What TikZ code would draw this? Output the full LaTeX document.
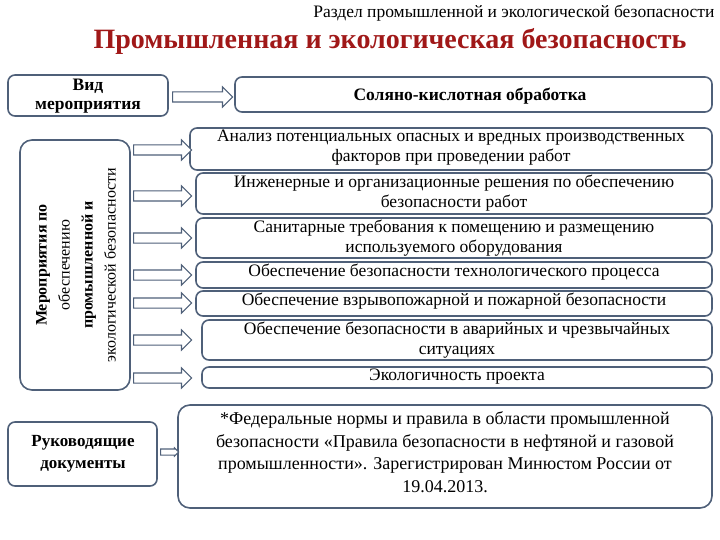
\documentclass[tikz,border=0pt]{standalone}
\usepackage{fontspec}
\setmainfont{Liberation Serif}
\usetikzlibrary{shapes.arrows}
\definecolor{edgeblue}{HTML}{4F6079}
\definecolor{titlered}{HTML}{A01818}
\tikzset{
  infobox/.style={draw=edgeblue,line width=1.6pt,rounded corners=7pt},
  blockarrow/.style={single arrow,draw=edgeblue,fill=white,line width=1.1pt,
    single arrow head extend=5pt,inner sep=4.5pt,minimum height=#1,anchor=west},
}
\begin{document}
\begin{tikzpicture}[x=1pt,y=-1pt,font=\fontsize{17.5}{19.5}\selectfont]
		% Page frame
		\useasboundingbox (0,0) rectangle (720,540);
		% Headings
		\node[anchor=east,font=\fontsize{17.5}{19}\selectfont] (section) at (718,13) {Раздел промышленной и экологической безопасности};
		\node[font=\fontsize{28}{30}\bfseries,text=titlered] (title) at (390,41) {Промышленная и экологическая безопасность};

		% Top row
		\draw[infobox] (8,75) rectangle (168,116);
		\node[align=center,font=\fontsize{17.5}{19}\bfseries] (kind) at (88,96) {Вид\\мероприятия};
		\draw[infobox] (235,77) rectangle (712,112);
		\node[font=\fontsize{17.5}{19}\bfseries] (treat) at (470,96) {Соляно-кислотная обработка};
		\node[blockarrow=60pt] (a0) at (172,97) {};

		% Left tall box with rotated text
		\draw[infobox,rounded corners=12pt] (20,140) rectangle (130,390);
		\node[rotate=90,align=center,font=\fontsize{16}{23}\selectfont] (measures) at (76,265)
		  {\textbf{Мероприятия по}\\обеспечению\\\textbf{промышленной и}\\экологической безопасности};

		% Right list of measures
		\foreach \xa/\ya/\yb/\txt [count=\i] in {
		  190/128/170/{Анализ потенциальных опасных и вредных производственных\\факторов при проведении работ},
		  196/173/214/{Инженерные и организационные решения по обеспечению\\безопасности работ},
		  196/218/258/{Санитарные требования к помещению и размещению\\используемого оборудования},
		  196/262/288/{Обеспечение безопасности технологического процесса},
		  196/291/316/{Обеспечение взрывопожарной и пожарной безопасности},
		  202/320/360/{Обеспечение безопасности в аварийных и чрезвычайных\\ситуациях},
		  202/367/388/{Экологичность проекта}}{
		  \draw[infobox] (\xa,\ya) rectangle (712,\yb);
		  \node[align=center,anchor=north,inner sep=0pt] (m\i) at ({(\xa+712)/2},\ya+2) {\txt};
		}
		\foreach \ya [count=\i] in {150,196,238,275,303,340,378}
		  \node[blockarrow=58pt] (arr\i) at (133,\ya) {};

		% Bottom row
		\draw[infobox] (8,422) rectangle (157,486);
		\node[align=center,font=\fontsize{17}{22}\bfseries] (docs) at (83,454) {Руководящие\\документы};
		\draw[infobox,rounded corners=12pt] (178,405) rectangle (712,508);
		\node[align=center,font=\fontsize{18}{22.5}\selectfont] (norms) at (445,452)
		  {*Федеральные нормы и правила в области промышленной\\безопасности «Правила безопасности в нефтяной и газовой\\промышленности». Зарегистрирован Минюстом России от\\19.04.2013.};
		\node[blockarrow=18pt,inner sep=2.5pt,single arrow head extend=1pt] (a8) at (160,452) {};
	\end{tikzpicture}
\end{document}
